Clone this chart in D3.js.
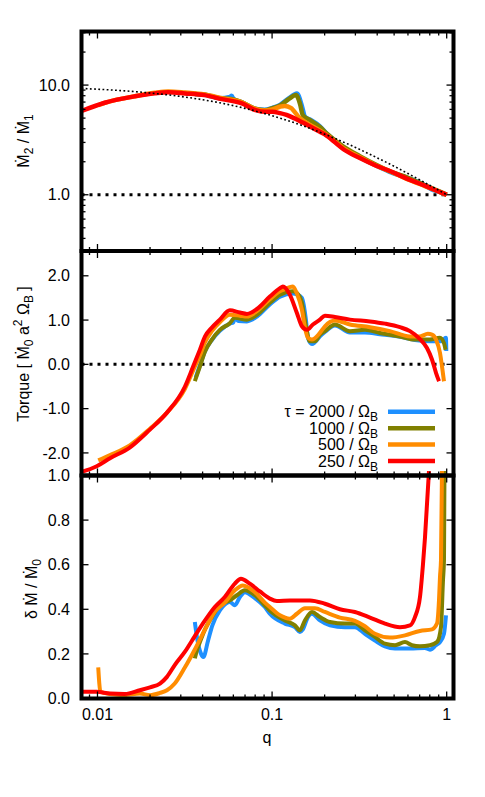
<!DOCTYPE html>
<html><head><meta charset="utf-8">
<script src="https://cdn.jsdelivr.net/npm/d3@7"></script>
<style>body{margin:0;background:#fff}svg{display:block}text{font-family:"Liberation Sans",Arial,sans-serif;fill:#000}</style>
</head><body>
<svg id="c" width="485" height="797"></svg>
<script>
// ---------- data ----------
const seriesNames = ["2000", "1000", "500", "250"];
const seriesColors = ["#1e90ff", "#808000", "#ff8c00", "#ff0000"];

// Top panel: Mdot2 / Mdot1 vs q
const ratio2000 = [[0.0361,8.3],[0.041,8.15],[0.0503,7.6],[0.0573,7.8],[0.0587,8.0],[0.06,7.5],[0.0672,6.95],[0.0795,6.1],[0.0908,5.95],[0.1005,6.2],[0.111,6.6],[0.125,7.6],[0.1387,8.4],[0.148,6.5],[0.1542,5.15],[0.1647,4.85],[0.188,4.2],[0.206,3.6],[0.256,2.7],[0.27,2.55],[0.318,2.2],[0.394,1.85],[0.48,1.6],[0.60,1.42],[0.75,1.22],[0.82,1.12],[0.9,1.07],[1.0,1.0]];
const ratio1000 = [[0.0361,8.3],[0.041,8.2],[0.0503,7.6],[0.057,7.5],[0.0672,6.95],[0.0795,6.1],[0.0908,5.9],[0.1005,6.15],[0.111,6.5],[0.125,7.5],[0.1369,8.1],[0.1443,6.8],[0.1501,5.3],[0.1647,4.8],[0.188,4.15],[0.206,3.6],[0.256,2.75],[0.318,2.25],[0.394,1.88],[0.48,1.62],[0.60,1.43],[0.75,1.22],[0.9,1.08],[1.0,1.0]];
const ratio500 = [[0.0101,6.55],[0.011,6.88],[0.0164,7.92],[0.0213,8.5],[0.0254,8.75],[0.0317,8.55],[0.041,8.2],[0.0515,7.6],[0.0672,6.95],[0.0795,6.1],[0.0908,5.85],[0.1005,6.0],[0.111,6.35],[0.118,6.45],[0.128,6.2],[0.1443,4.98],[0.16,4.45],[0.188,3.85],[0.206,3.5],[0.256,2.65],[0.318,2.2],[0.394,1.85],[0.48,1.62],[0.60,1.38],[0.75,1.2],[0.94,1.04],[1.0,1.0]];
const ratio250 = [[0.0081,5.8],[0.011,6.9],[0.0164,7.9],[0.0213,8.4],[0.0254,8.6],[0.0317,8.4],[0.041,8.1],[0.0515,7.45],[0.0672,6.8],[0.0795,5.95],[0.0908,5.7],[0.1005,5.7],[0.111,5.55],[0.121,5.34],[0.135,4.95],[0.150,4.55],[0.165,4.2],[0.188,3.75],[0.206,3.45],[0.256,2.6],[0.318,2.16],[0.394,1.84],[0.48,1.63],[0.60,1.39],[0.75,1.21],[0.94,1.04],[1.0,1.0]];
const ratioFit = [[0.0081,9.31],[0.01,9.17],[0.02,8.47],[0.03,7.87],[0.05,6.90],[0.07,6.13],[0.1,5.26],[0.15,4.26],[0.2,3.57],[0.3,2.70],[0.4,2.17],[0.5,1.82],[0.6,1.56],[0.7,1.37],[0.8,1.22],[0.9,1.10],[1.0,1.0]];
const ratioUnity = [[0.0081,1.0],[1.0,1.0]];

// Middle panel: torque
const torque2000 = [[0.0365,-0.3],[0.0386,-0.02],[0.0413,0.3],[0.0452,0.55],[0.0502,0.76],[0.0573,0.92],[0.06,0.95],[0.0612,1.05],[0.064,0.98],[0.0718,0.97],[0.0819,1.08],[0.0971,1.35],[0.111,1.53],[0.1316,1.6],[0.1387,1.58],[0.1482,1.5],[0.1563,1.0],[0.1604,0.6],[0.1691,0.46],[0.1759,0.5],[0.1879,0.63],[0.2007,0.73],[0.2291,0.88],[0.279,0.72],[0.34,0.72],[0.4148,0.68],[0.54,0.62],[0.658,0.55],[0.8023,0.52],[0.93,0.52],[0.99,0.6],[0.995,0.3]];
const torque1000 = [[0.0361,-0.38],[0.0386,-0.05],[0.0413,0.29],[0.0452,0.56],[0.0502,0.78],[0.0573,0.93],[0.0612,1.05],[0.0718,1.01],[0.0819,1.12],[0.0971,1.39],[0.111,1.57],[0.1316,1.65],[0.1387,1.61],[0.1482,1.39],[0.1563,0.86],[0.1647,0.52],[0.1759,0.52],[0.1879,0.67],[0.2007,0.75],[0.2291,0.90],[0.279,0.75],[0.34,0.78],[0.4148,0.71],[0.54,0.63],[0.658,0.56],[0.8023,0.56],[0.9154,0.6],[0.9649,0.48],[0.985,0.33]];
const torque500 = [[0.0101,-2.17],[0.0118,-2.05],[0.0153,-1.83],[0.0199,-1.46],[0.025,-1.09],[0.0317,-0.55],[0.0361,-0.05],[0.0386,0.2],[0.0413,0.5],[0.0452,0.75],[0.0502,0.95],[0.0573,1.12],[0.0654,1.1],[0.0718,1.08],[0.0819,1.2],[0.0971,1.47],[0.111,1.65],[0.1153,1.68],[0.1316,1.76],[0.1387,1.6],[0.1482,1.23],[0.1542,0.83],[0.1604,0.6],[0.1691,0.56],[0.1879,0.71],[0.2007,0.86],[0.2291,0.99],[0.279,0.90],[0.3635,0.84],[0.4732,0.75],[0.6163,0.63],[0.7031,0.63],[0.78,0.69],[0.8238,0.67],[0.8685,0.56],[0.9154,0.26],[0.9398,-0.04],[0.9649,-0.38]];
const torque250 = [[0.0081,-2.43],[0.0099,-2.30],[0.0118,-2.12],[0.0153,-1.88],[0.0199,-1.48],[0.025,-1.09],[0.0317,-0.5],[0.0353,-0.05],[0.0386,0.33],[0.0413,0.63],[0.0452,0.83],[0.0502,1.01],[0.0573,1.22],[0.0654,1.17],[0.0718,1.14],[0.0819,1.25],[0.0971,1.53],[0.111,1.72],[0.1153,1.76],[0.1265,1.57],[0.1387,1.16],[0.1482,0.86],[0.1585,0.78],[0.1714,0.90],[0.1879,1.01],[0.2007,1.10],[0.2291,1.07],[0.279,1.01],[0.3635,0.97],[0.443,0.92],[0.54,0.84],[0.6163,0.75],[0.7031,0.57],[0.771,0.37],[0.8238,0.11],[0.8685,-0.19],[0.9034,-0.38]];
const torqueZero = [[0.0081,0],[1.0,0]];

// Bottom panel: delta Mdot / Mdot0
const dm2000 = [[0.0361,0.343],[0.0372,0.27],[0.0392,0.2],[0.0404,0.186],[0.043,0.26],[0.0455,0.328],[0.0502,0.395],[0.0573,0.433],[0.0612,0.418],[0.0654,0.455],[0.0698,0.477],[0.0797,0.45],[0.0909,0.41],[0.0971,0.38],[0.1184,0.336],[0.1351,0.32],[0.1443,0.298],[0.1501,0.31],[0.1604,0.365],[0.1691,0.38],[0.1879,0.35],[0.2144,0.328],[0.2612,0.32],[0.2981,0.32],[0.3401,0.29],[0.3882,0.26],[0.443,0.234],[0.506,0.224],[0.6163,0.224],[0.7509,0.227],[0.8023,0.219],[0.8685,0.239],[0.9154,0.253],[0.9649,0.29],[0.991,0.373]];
const dm1000 = [[0.0361,0.18],[0.0371,0.216],[0.0386,0.253],[0.0413,0.31],[0.0452,0.365],[0.0502,0.418],[0.0573,0.44],[0.0628,0.463],[0.0698,0.485],[0.0797,0.463],[0.0909,0.418],[0.0971,0.395],[0.1184,0.35],[0.1351,0.328],[0.1443,0.306],[0.1542,0.35],[0.1691,0.388],[0.1879,0.365],[0.2144,0.343],[0.2612,0.336],[0.2981,0.336],[0.3401,0.306],[0.3882,0.276],[0.443,0.246],[0.506,0.239],[0.5768,0.253],[0.6325,0.239],[0.7031,0.234],[0.8023,0.239],[0.8799,0.253],[0.9275,0.32],[0.9523,0.53],[0.9649,0.62],[0.9714,1.02]];
const dm500 = [[0.0101,0.14],[0.0104,0.03],[0.0118,0.02],[0.0143,0.015],[0.0175,0.022],[0.02,0.015],[0.0228,0.025],[0.025,0.037],[0.0277,0.067],[0.0317,0.14],[0.0361,0.22],[0.0413,0.31],[0.047,0.39],[0.0536,0.43],[0.0612,0.485],[0.068,0.507],[0.0797,0.477],[0.0909,0.43],[0.0971,0.41],[0.1109,0.373],[0.1265,0.358],[0.1387,0.38],[0.1542,0.405],[0.1759,0.405],[0.2007,0.388],[0.2446,0.363],[0.2981,0.348],[0.3401,0.324],[0.3882,0.29],[0.4732,0.273],[0.5768,0.283],[0.7031,0.303],[0.8238,0.31],[0.8799,0.336],[0.9034,0.44],[0.9154,0.545],[0.9275,0.62],[0.9398,1.02]];
const dm250 = [[0.0081,0.03],[0.0099,0.03],[0.0118,0.022],[0.0143,0.02],[0.0175,0.037],[0.02,0.05],[0.0228,0.067],[0.025,0.097],[0.0277,0.15],[0.0317,0.21],[0.0361,0.28],[0.0413,0.35],[0.047,0.41],[0.0536,0.455],[0.0612,0.515],[0.0663,0.537],[0.0746,0.515],[0.0851,0.48],[0.0971,0.448],[0.1065,0.437],[0.1265,0.44],[0.1647,0.44],[0.2007,0.425],[0.2446,0.40],[0.2981,0.388],[0.3635,0.363],[0.443,0.336],[0.54,0.32],[0.6163,0.328],[0.658,0.365],[0.7031,0.455],[0.7312,0.6],[0.7509,0.72],[0.7918,1.02]];

// ticks
const xTickVals = [0.01, 0.1, 1];
const xTickLabels = ["0.01", "0.1", "1"];
const xMinorVals = [0.009,0.02,0.03,0.04,0.05,0.06,0.07,0.08,0.09,0.2,0.3,0.4,0.5,0.6,0.7,0.8,0.9];
const ratioTickVals = [1, 10];
const ratioTickLabels = ["1.0", "10.0"];
const ratioMinorVals = [0.4,0.5,0.6,0.7,0.8,0.9,2,3,4,5,6,7,8,9,20,30];
const torqueTickVals = [-2, -1, 0, 1, 2];
const torqueTickLabels = ["-2.0", "-1.0", "0.0", "1.0", "2.0"];
const dmTickVals = [0, 0.2, 0.4, 0.6, 0.8, 1.0];
const dmTickLabels = ["0.0", "0.2", "0.4", "0.6", "0.8", "1.0"];
const xTitle = "q";

// ---------- layout ----------
const svg = d3.select("#c");
const L = 81.5, R = 453.5;
const x = d3.scaleLog().domain([0.0081, 1.094]).range([L, R]);
const panels = [
  {top: 31.5, bot: 251, y: d3.scaleLog().domain([0.307, 30.8]).range([251, 31.5]),
   series: [ratio2000, ratio1000, ratio500, ratio250], ticks: ratioTickVals, labels: ratioTickLabels, minor: ratioMinorVals},
  {top: 251, bot: 475.5, y: d3.scaleLinear().domain([-2.51, 2.56]).range([475.5, 251]),
   series: [torque2000, torque1000, torque500, torque250], ticks: torqueTickVals, labels: torqueTickLabels, minor: []},
  {top: 475.5, bot: 698.5, y: d3.scaleLinear().domain([0, 1]).range([698.5, 475.5]),
   series: [dm2000, dm1000, dm500, dm250], ticks: dmTickVals, labels: dmTickLabels, minor: []}
];

const lineGen = (ys) => d3.line().x(d => x(d[0])).y(d => ys(d[1])).curve(d3.curveMonotoneX);

// reference lines under the curves
svg.append("path").attr("d", lineGen(panels[0].y)(ratioUnity))
  .attr("fill","none").attr("stroke","#000").attr("stroke-width",3).attr("stroke-dasharray","3,5");
svg.append("path").attr("d", lineGen(panels[1].y)(torqueZero))
  .attr("fill","none").attr("stroke","#000").attr("stroke-width",3).attr("stroke-dasharray","3,5");

panels.forEach((p, pi) => {
  p.series.forEach((s, si) => {
    svg.append("path").attr("d", lineGen(p.y)(s))
      .attr("fill","none").attr("stroke", seriesColors[si])
      .attr("stroke-width", pi === 0 ? 4.5 : 4).attr("stroke-linejoin","round");
  });
});

// fit line (thin dotted) on top
svg.append("path").attr("d", lineGen(panels[0].y)(ratioFit))
  .attr("fill","none").attr("stroke","#000").attr("stroke-width",1.6).attr("stroke-dasharray","1.8,2.4");

// ticks & borders
panels.forEach((p, pi) => {
  const g = svg.append("g");
  const tk = (x1,y1,x2,y2) => g.append("line").attr("x1",x1).attr("y1",y1).attr("x2",x2).attr("y2",y2).attr("stroke","#000").attr("stroke-width",1.3);
  xTickVals.forEach(v => { tk(x(v), p.bot, x(v), p.bot-7); tk(x(v), p.top, x(v), p.top+7); });
  xMinorVals.forEach(v => { tk(x(v), p.bot, x(v), p.bot-4); tk(x(v), p.top, x(v), p.top+4); });
  p.ticks.forEach((v,i) => {
    const yy = p.y(v);
    tk(L, yy, L+7, yy); tk(R, yy, R-7, yy);
    g.append("text").attr("x", 70).attr("y", yy).attr("dy","0.35em").attr("text-anchor","end")
      .attr("font-size", 16).text(p.labels[i]);
  });
  p.minor.forEach(v => { const yy = p.y(v); tk(L, yy, L+4, yy); tk(R, yy, R-4, yy); });
  g.append("rect").attr("x", L).attr("y", p.top).attr("width", R-L).attr("height", p.bot-p.top)
    .attr("fill","none").attr("stroke","#000").attr("stroke-width",4);
});

// x tick labels & title
xTickVals.forEach((v,i) => {
  svg.append("text").attr("x", x(v)).attr("y", 720).attr("text-anchor","middle").attr("font-size",16).text(xTickLabels[i]);
});
svg.append("text").attr("x", 267).attr("y", 743).attr("text-anchor","middle").attr("font-size",16).text(xTitle);

// y titles
function yTitle(cx, cy, parts) {
  const t = svg.append("text").attr("transform", `translate(${cx},${cy}) rotate(-90)`)
    .attr("text-anchor","middle").attr("font-size",16);
  parts.forEach(pt => {
    const ts = t.append("tspan").text(pt.t);
    if (pt.s) ts.attr("font-size", 12).attr("dy", pt.s);
    if (pt.b) ts.attr("dy", pt.b);
  });
}
yTitle(28.5, 141, [{t:"Ṁ"},{t:"2",s:4},{t:" / Ṁ",b:-4},{t:"1",s:4}]);
yTitle(28.5, 354, [{t:"Torque [ Ṁ"},{t:"0",s:4},{t:" a",b:-4},{t:"2",s:-7},{t:" Ω",b:7},{t:"B",s:4},{t:" ]",b:-4}]);
yTitle(36.5, 589, [{t:"δ Ṁ / Ṁ"},{t:"0",s:4}]);

// legend
const legY = [411.7, 428.3, 444.5, 461];
const legText = ["τ = 2000 / Ω", "1000 / Ω", "500 / Ω", "250 / Ω"];
legText.forEach((lt, i) => {
  const t = svg.append("text").attr("x", 378).attr("y", legY[i] + 5.5).attr("text-anchor","end").attr("font-size",16);
  t.append("tspan").text(lt);
  t.append("tspan").attr("font-size",12).attr("dy",4).text("B");
  svg.append("line").attr("x1", 388).attr("x2", 435).attr("y1", legY[i]).attr("y2", legY[i])
    .attr("stroke", seriesColors[i]).attr("stroke-width", 4.5);
});
</script>
</body></html>
